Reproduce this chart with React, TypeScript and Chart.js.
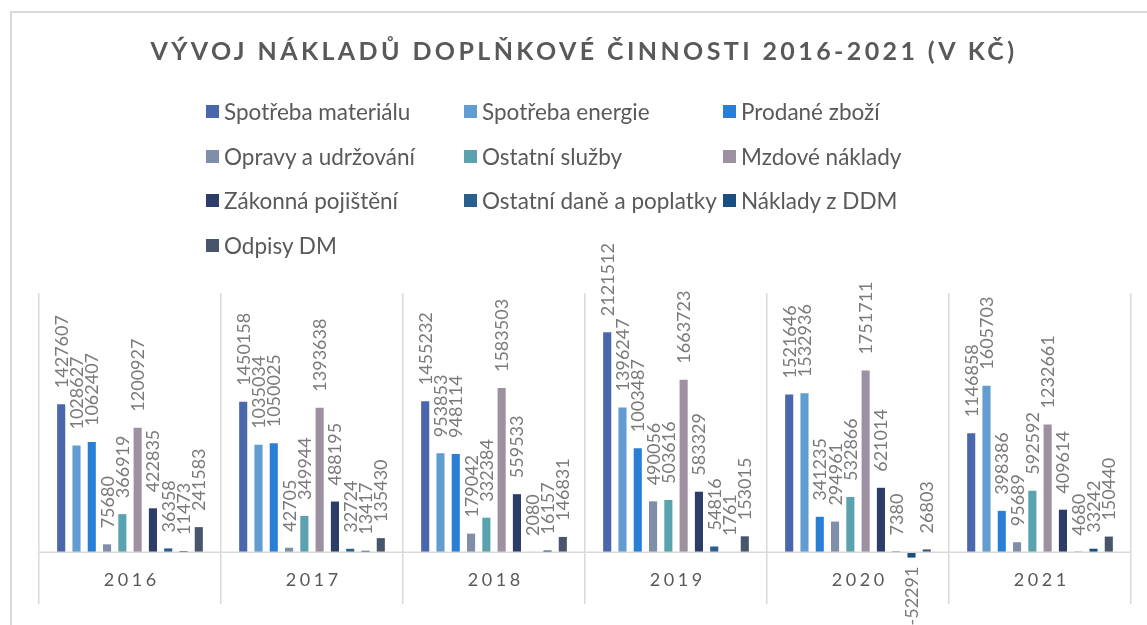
import React, { useEffect, useRef } from "react";
import { Chart, registerables } from "chart.js";

Chart.register(...registerables);

const years = ["2016", "2017", "2018", "2019", "2020", "2021"];

const seriesNames = [
  "Spotřeba materiálu",
  "Spotřeba energie",
  "Prodané zboží",
  "Opravy a udržování",
  "Ostatní služby",
  "Mzdové náklady",
  "Zákonná pojištění",
  "Ostatní daně a poplatky",
  "Náklady z DDM",
  "Odpisy DM",
];

const seriesColors = [
  "#4A66AC",
  "#629DD1",
  "#297FD5",
  "#7F8FA9",
  "#5AA2AE",
  "#9D90A0",
  "#2C3D68",
  "#295F8E",
  "#1A4D80",
  "#48556A",
];

const spotrebaMaterialu = [1427607, 1450158, 1455232, 2121512, 1521646, 1146858];
const spotrebaEnergie = [1028627, 1035034, 953853, 1396247, 1532936, 1605703];
const prodaneZbozi = [1062407, 1050025, 948114, 1003487, 341235, 398386];
const opravyUdrzovani = [75680, 42705, 179042, 490056, 294961, 95689];
const ostatniSluzby = [366919, 349944, 332384, 503616, 532866, 592592];
const mzdoveNaklady = [1200927, 1393638, 1583503, 1663723, 1751711, 1232661];
const zakonnaPojisteni = [422835, 488195, 559533, 583329, 621014, 409614];
const ostatniDane = [36358, 32724, 2080, 54816, 7380, 4680];
const nakladyDDM = [11473, 13417, 16157, 1761, -52291, 33242];
const odpisyDM = [241583, 135430, 146831, 153015, 26803, 150440];

const seriesValues = [
  spotrebaMaterialu,
  spotrebaEnergie,
  prodaneZbozi,
  opravyUdrzovani,
  ostatniSluzby,
  mzdoveNaklady,
  zakonnaPojisteni,
  ostatniDane,
  nakladyDDM,
  odpisyDM,
];

const TEXT = "#595959";
const LINE = "#d9d9d9";

const overlayPlugin = {
  id: "overlay",
  afterDatasetsDraw(chart: any) {
    const ctx = chart.ctx;
    const x = chart.scales.x;
    const y = chart.scales.y;
    const zeroY = y.getPixelForValue(0);
    const area = chart.chartArea;
    // zero axis line
    ctx.save();
    ctx.strokeStyle = LINE;
    ctx.lineWidth = 1.5;
    ctx.beginPath();
    ctx.moveTo(area.left, zeroY);
    ctx.lineTo(area.right, zeroY);
    ctx.stroke();
    ctx.restore();

    // data labels
    const fontSize = 18;
    const cap = fontSize * 0.72;
    ctx.save();
    ctx.font = `${fontSize}px Lato`;
    ctx.fillStyle = "#7a7a7a";
    ctx.textBaseline = "alphabetic";
    chart.data.datasets.forEach((ds: any, di: number) => {
      const meta = chart.getDatasetMeta(di);
      meta.data.forEach((el: any, i: number) => {
        const v = ds.data[i];
        const txt = String(v);
        ctx.save();
        if (v >= 0) {
          ctx.translate(el.x, el.y - 16);
          ctx.rotate(-Math.PI / 2);
          ctx.textAlign = "left";
        } else {
          ctx.translate(el.x, el.y + 9);
          ctx.rotate(-Math.PI / 2);
          ctx.textAlign = "right";
        }
        ctx.fillText(txt, 0, cap / 2);
        ctx.restore();
      });
    });
    ctx.restore();

    // category labels
    ctx.save();
    ctx.font = "18px Lato";
    ctx.fillStyle = TEXT;
    ctx.textAlign = "center";
    ctx.textBaseline = "middle";
    (ctx as any).letterSpacing = "3.5px";
    years.forEach((yr, i) => {
      const cx = x.getPixelForValue(i);
      ctx.fillText(yr, cx + 1.75, zeroY + 28);
    });
    ctx.restore();
  },
};

function ChartCanvas() {
  const ref = useRef<HTMLCanvasElement | null>(null);
  useEffect(() => {
    if (!ref.current) return;
    const chart = new Chart(ref.current, {
      type: "bar",
      data: {
        labels: years,
        datasets: seriesNames.map((name, i) => ({
          label: name,
          data: seriesValues[i],
          backgroundColor: seriesColors[i],
          borderWidth: 0,
          categoryPercentage: 0.84,
          barPercentage: 0.53,
        })),
      },
      options: {
        animation: false,
        responsive: false,
        maintainAspectRatio: false,
        layout: { padding: { left: 39, right: 16, top: 293, bottom: 21 } },
        plugins: {
          legend: { display: false },
          title: { display: false },
          tooltip: { enabled: false },
        },
        scales: {
          x: {
            display: true,
            ticks: { display: false },
            grid: {
              display: true,
              offset: true,
              drawTicks: false,
              color: LINE,
              lineWidth: 1.5,
            },
            border: { display: false },
          },
          y: {
            display: false,
            min: -500000,
            max: 2500000,
          },
        },
      },
      plugins: [overlayPlugin],
    });
    return () => chart.destroy();
  }, []);
  return (
    <canvas
      ref={ref}
      width={1147}
      height={625}
      style={{ position: "absolute", left: 0, top: 0, width: 1147, height: 625 }}
    />
  );
}

const legendColX = [206, 464, 723];
const legendRowY = [111, 156, 200, 245];

export default function App() {
  return (
    <div
      style={{
        position: "absolute",
        left: 0,
        top: 0,
        width: 1147,
        height: 625,
        overflow: "hidden",
        background: "#fff",
        fontFamily: "Lato, sans-serif",
      }}
    >
      <div
        style={{
          position: "absolute",
          left: 10,
          top: 11,
          width: 1200,
          height: 700,
          borderLeft: `2px solid ${LINE}`,
          borderTop: `2px solid ${LINE}`,
        }}
      />
      <ChartCanvas />
      <div
        style={{
          position: "absolute",
          left: 0,
          width: 1168,
          top: 35,
          textAlign: "center",
          fontSize: 25,
          lineHeight: 1.2,
          fontWeight: 700,
          letterSpacing: "3.4px",
          color: TEXT,
          whiteSpace: "nowrap",
        }}
      >
        VÝVOJ NÁKLADŮ DOPLŇKOVÉ ČINNOSTI 2016-2021 (V KČ)
      </div>
      {seriesNames.map((name, i) => {
        const col = i % 3;
        const row = Math.floor(i / 3);
        return (
          <div
            key={name}
            style={{
              position: "absolute",
              left: legendColX[col],
              top: legendRowY[row] - 14,
              height: 28,
              display: "flex",
              alignItems: "center",
              whiteSpace: "nowrap",
              fontSize: 22.5,
              color: TEXT,
            }}
          >
            <span
              style={{
                display: "inline-block",
                width: 13,
                height: 13,
                background: seriesColors[i],
                marginRight: 5,
              }}
            />
            <span>{name}</span>
          </div>
        );
      })}
    </div>
  );
}
